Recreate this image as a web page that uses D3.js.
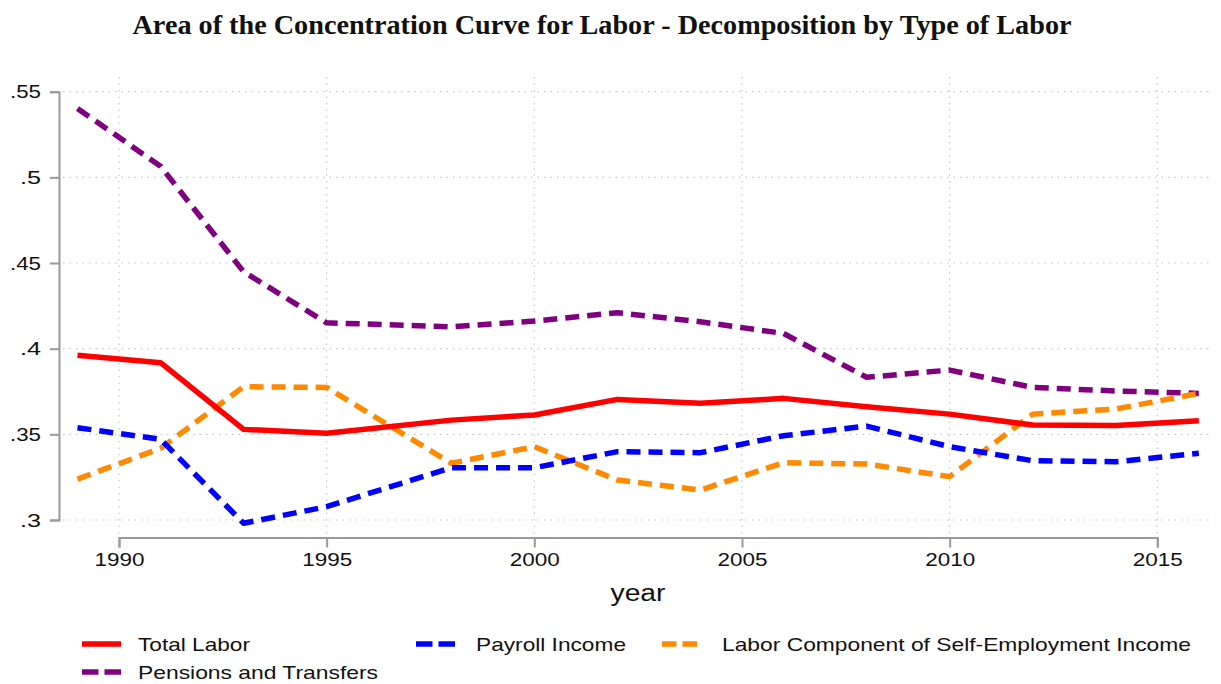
<!DOCTYPE html>
<html>
<head>
<meta charset="utf-8">
<script src="https://cdn.jsdelivr.net/npm/d3@7"></script>
<style>
  body { margin: 0; background: #fff; }
  text { font-family: "Liberation Sans", Arial, sans-serif; fill: #111; }
</style>
</head>
<body>
<script>
// data
var years = [1989, 1991, 1993, 1995, 1998, 2000, 2002, 2004, 2006, 2008, 2010, 2012, 2014, 2016];
var totalLabor = [0.3961, 0.3918, 0.3529, 0.3506, 0.3583, 0.3613, 0.3704, 0.3681, 0.3710, 0.3661, 0.3618, 0.3554, 0.3552, 0.3579];
var payroll = [0.3539, 0.3471, 0.2981, 0.3078, 0.3305, 0.3305, 0.3399, 0.3393, 0.3492, 0.3548, 0.3428, 0.3346, 0.3340, 0.3389];
var selfEmp = [0.3239, 0.3418, 0.3778, 0.3774, 0.3331, 0.3428, 0.3233, 0.3175, 0.3334, 0.3327, 0.3253, 0.3618, 0.3648, 0.3739];
var pensions = [0.5402, 0.5065, 0.4449, 0.4151, 0.4128, 0.4161, 0.4210, 0.4157, 0.4089, 0.3833, 0.3875, 0.3774, 0.3753, 0.3739];

var xTicks = [1990, 1995, 2000, 2005, 2010, 2015];
var yTicks = [0.3, 0.35, 0.4, 0.45, 0.5, 0.55];
var yTickLabels = [".3", ".35", ".4", ".45", ".5", ".55"];

var width = 1221, height = 684;

var series = [
  {name: "Total Labor", values: totalLabor, color: "#ff0000", dash: null},
  {name: "Payroll Income", values: payroll, color: "#0000ff", dash: "14,8"},
  {name: "Labor Component of Self-Employment Income", values: selfEmp, color: "#ff8a00", dash: "14,8"},
  {name: "Pensions and Transfers", values: pensions, color: "#800080", dash: "14,8"}
];

var svg = d3.select("body").append("svg")
    .attr("width", width)
    .attr("height", height);

var x = d3.scaleLinear().domain([1990, 2015]).range([119, 1157.3]);
var y = d3.scaleLinear().domain([0.3, 0.55]).range([520, 91.7]);

// title
svg.append("text")
    .attr("x", 602).attr("y", 34)
    .attr("text-anchor", "middle")
    .style("font-family", "'Liberation Serif', 'Times New Roman', serif")
    .style("font-weight", "bold")
    .style("font-size", "27px")
    .attr("textLength", 939)
    .attr("lengthAdjust", "spacingAndGlyphs")
    .text("Area of the Concentration Curve for Labor - Decomposition by Type of Labor");

// grid
var grid = svg.append("g").attr("class", "grid");
grid.selectAll("line.h").data(yTicks).enter().append("line")
    .attr("x1", 63).attr("x2", 1213)
    .attr("y1", d => y(d)).attr("y2", d => y(d))
    .attr("stroke", "#c8c8c8").attr("stroke-width", 1.2)
    .attr("stroke-dasharray", "1.5,5");
grid.selectAll("line.v").data(xTicks).enter().append("line")
    .attr("y1", 77).attr("y2", 537)
    .attr("x1", d => x(d)).attr("x2", d => x(d))
    .attr("stroke", "#c8c8c8").attr("stroke-width", 1.2)
    .attr("stroke-dasharray", "1.5,5");

// axes
var yAxis = d3.axisLeft(y)
    .tickValues(yTicks)
    .tickFormat((d, i) => yTickLabels[i])
    .tickSizeOuter(0)
    .tickSize(9)
    .tickPadding(9);
var gy = svg.append("g").attr("transform", "translate(59,0)").call(yAxis);

var xAxis = d3.axisBottom(x)
    .tickValues(xTicks)
    .tickFormat(d3.format("d"))
    .tickSizeOuter(0)
    .tickSize(10)
    .tickPadding(5);
var gx = svg.append("g").attr("transform", "translate(0,537.5)").call(xAxis);

[gx, gy].forEach(function (g) {
  g.select(".domain").attr("stroke", "#9a9a9a").attr("stroke-width", 2);
  g.selectAll(".tick line").attr("stroke", "#9a9a9a").attr("stroke-width", 2);
  g.selectAll(".tick text").style("font-size", "19px").attr("fill", "#111");
});
gx.selectAll(".tick text")
    .attr("textLength", 50)
    .attr("lengthAdjust", "spacingAndGlyphs");
gy.selectAll(".tick text")
    .attr("textLength", (d, i) => yTickLabels[i].length > 2 ? 31 : 21)
    .attr("lengthAdjust", "spacingAndGlyphs");

svg.append("text")
    .attr("x", 638).attr("y", 601)
    .attr("text-anchor", "middle")
    .style("font-size", "23px")
    .attr("textLength", 55)
    .attr("lengthAdjust", "spacingAndGlyphs")
    .text("year");

// lines
var line = d3.line()
    .x((d, i) => x(years[i]))
    .y(d => y(d));

svg.append("g").selectAll("path").data(series.slice().reverse()).enter().append("path")
    .attr("d", d => line(d.values))
    .attr("fill", "none")
    .attr("stroke", d => d.color)
    .attr("stroke-width", 5.5)
    .attr("stroke-dasharray", d => d.dash)
    .attr("stroke-linejoin", "round");

// legend
var legendPos = [
  {kx: 82, kw: 39, tx: 138, tl: 112, y: 644},
  {kx: 416, kw: 39, tx: 476, tl: 150, y: 644},
  {kx: 662, kw: 35, tx: 722, tl: 469, y: 644},
  {kx: 82, kw: 39, tx: 138, tl: 240, y: 672}
];
var legend = svg.append("g");
series.forEach(function (s, i) {
  var p = legendPos[i];
  legend.append("line")
      .attr("x1", p.kx).attr("x2", p.kx + p.kw)
      .attr("y1", p.y).attr("y2", p.y)
      .attr("stroke", s.color)
      .attr("stroke-width", 5.5)
      .attr("stroke-dasharray", s.dash ? (p.kw / 2 - 3) + ",6" : null);
  legend.append("text")
      .attr("x", p.tx).attr("y", p.y)
      .attr("dy", "0.35em")
      .style("font-size", "19px")
      .attr("textLength", p.tl)
      .attr("lengthAdjust", "spacingAndGlyphs")
      .text(s.name);
});
</script>
</body>
</html>
